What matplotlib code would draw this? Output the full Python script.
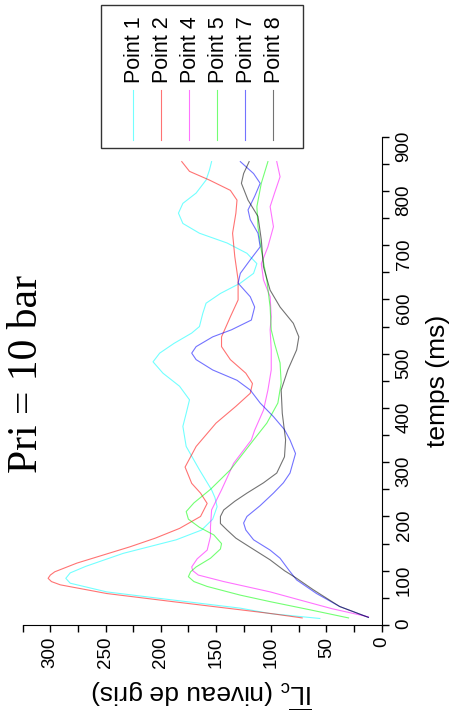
import numpy as np
import matplotlib.pyplot as plt
from matplotlib.lines import Line2D
from matplotlib.patches import Rectangle
from matplotlib.ticker import MultipleLocator

plt.rcParams['font.family'] = ['Liberation Sans', 'DejaVu Sans']
plt.rcParams['mathtext.fontset'] = 'custom'
plt.rcParams['mathtext.rm'] = 'Liberation Sans'
plt.rcParams['mathtext.it'] = 'Liberation Sans:italic'

# temps (ms) / niveau de gris
t_p1 = [12, 21, 31, 46, 61, 77, 86, 96, 108, 132, 157, 175, 195, 218, 235, 249, 286, 329, 366, 390,
        415, 440, 464, 485, 501, 519, 538, 550, 574, 593, 611, 630, 648, 666, 685, 704, 722, 740,
        759, 777, 796, 820, 838, 854]
il_p1 = [56, 101, 128, 189, 249, 282, 286, 282, 268, 234, 186, 163, 153, 149, 151, 154, 165, 177,
         180, 177, 174, 183, 198, 207, 201, 188, 172, 165, 162, 159, 146, 128, 116, 113, 122, 140,
         165, 180, 184, 180, 168, 159, 156, 154]

t_p2 = [13, 21, 28, 43, 58, 74, 80, 86, 92, 98, 114, 129, 144, 160, 178, 200, 224, 243, 261, 291,
        329, 372, 403, 427, 445, 464, 489, 513, 531, 568, 599, 636, 679, 722, 759, 783, 801, 820,
        836, 854]
il_p2 = [72, 100, 128, 189, 249, 291, 299, 302, 300, 296, 276, 252, 228, 205, 183, 164, 158, 164,
         172, 178, 168, 150, 132, 119, 117, 123, 137, 145, 145, 137, 130, 130, 133, 135, 132, 131,
         137, 156, 174, 181]

t_p4 = [15, 30, 46, 61, 80, 92, 100, 107, 122, 138, 163, 181, 212, 249, 298, 341, 359, 396, 433,
        470, 507, 544, 568, 605, 636, 666, 697, 734, 771, 796, 826, 854]
il_p4 = [12, 45, 74, 101, 143, 166, 171, 172, 167, 158, 155, 155, 154, 145, 134, 118, 115, 107,
         103, 100, 100, 101, 100, 101, 107, 109, 103, 98, 101, 97, 92, 95]

t_p5 = [13, 28, 43, 55, 71, 80, 89, 98, 107, 123, 140, 150, 166, 180, 195, 209, 225, 250, 286,
        341, 372, 409, 446, 483, 519, 544, 586, 636, 691, 734, 771, 814, 854]
il_p5 = [30, 65, 101, 128, 158, 170, 175, 173, 168, 155, 146, 145, 152, 165, 175, 177, 170, 155,
         137, 116, 104, 94, 91, 92, 97, 100, 101, 104, 109, 112, 113, 109, 103]

t_p7 = [14, 34, 58, 83, 101, 123, 138, 157, 175, 188, 200, 220, 243, 262, 280, 316, 341, 360, 384,
        409, 433, 451, 470, 489, 501, 513, 531, 544, 562, 586, 605, 630, 648, 673, 697, 722, 747,
        765, 790, 814, 832, 854]
il_p7 = [12, 38, 59, 77, 84, 92, 101, 116, 123, 125, 122, 110, 98, 89, 83, 78, 83, 88, 98, 110,
         119, 131, 153, 168, 172, 168, 153, 136, 118, 115, 119, 130, 128, 119, 110, 112, 119, 121,
         115, 110, 116, 128]

t_p8 = [14, 34, 65, 86, 100, 120, 147, 160, 175, 187, 200, 212, 228, 243, 262, 280, 310, 341, 390,
        433, 470, 507, 531, 556, 586, 617, 660, 710, 753, 783, 814, 832, 854]
il_p8 = [12, 38, 62, 77, 88, 101, 122, 132, 140, 146, 146, 143, 133, 122, 107, 95, 88, 87, 90,
         91, 85, 77, 75, 80, 92, 101, 107, 109, 112, 121, 127, 125, 120]

labels = ['Point 1', 'Point 2', 'Point 4', 'Point 5', 'Point 7', 'Point 8']
colors = ['#00ffff', '#ff0000', '#ff00ff', '#00ff00', '#0000ff', '#000000']
series = [(t_p1, il_p1), (t_p2, il_p2), (t_p4, il_p4), (t_p5, il_p5), (t_p7, il_p7), (t_p8, il_p8)]

W, H = 457, 715


def px(x, y):
    # pixels de l'image -> coordonnees figure
    return x / W, 1 - y / H


fig = plt.figure(figsize=(W / 100, H / 100), dpi=100)
ax = fig.add_axes([0.0497, 0.1259, 0.7855, 0.683])

# la figure est tournee de 90 degres : le temps est vertical, l'intensite horizontale
for (t, il), c in zip(series, colors):
    ax.plot(il, t, color=c, lw=0.8, alpha=0.55)

ax.set_xlim(325, 0)
ax.set_ylim(0, 900)
ax.xaxis.set_major_locator(MultipleLocator(50))
ax.xaxis.set_minor_locator(MultipleLocator(25))
ax.yaxis.set_major_locator(MultipleLocator(100))
ax.yaxis.set_minor_locator(MultipleLocator(50))
ax.yaxis.tick_right()
ax.yaxis.set_label_position('right')
ax.spines['top'].set_visible(False)
ax.spines['left'].set_visible(False)
ax.tick_params(which='both', direction='out', length=5, width=1, labelsize=13.5)
ax.tick_params(axis='x', labelrotation=90)
ax.tick_params(axis='y', labelrotation=90, pad=5)

ax.set_xlabel(r'$\overline{\mathrm{IL}}_\mathrm{c}$ (niveau de gris)', fontsize=19,
              rotation=180, labelpad=6)
ax.set_ylabel('temps (ms)', fontsize=19, rotation=90, labelpad=10)

fig.text(*px(27, 374), 'Pri = 10 bar', rotation=90, family='Liberation Serif',
         fontsize=30, ha='center', va='center')

# legende tournee, construite a la main
x0, y0 = px(101, 148)
x1, y1 = px(303, 5)
fig.add_artist(Rectangle((x0, y0), x1 - x0, y1 - y0, transform=fig.transFigure,
                         fill=False, edgecolor='#333333', lw=1))
for i, (lab, c) in enumerate(zip(labels, colors)):
    xc = 133 + 28 * i
    lx, ly0 = px(xc, 140)
    _, ly1 = px(xc, 90)
    fig.add_artist(Line2D([lx, lx], [ly0, ly1], transform=fig.transFigure,
                          color=c, lw=0.8, alpha=0.55))
    tx, ty = px(xc + 1, 83)
    fig.text(tx, ty, lab, rotation=90, fontsize=15.5, ha='center', va='bottom')

fig.savefig('out.png', dpi=100)
